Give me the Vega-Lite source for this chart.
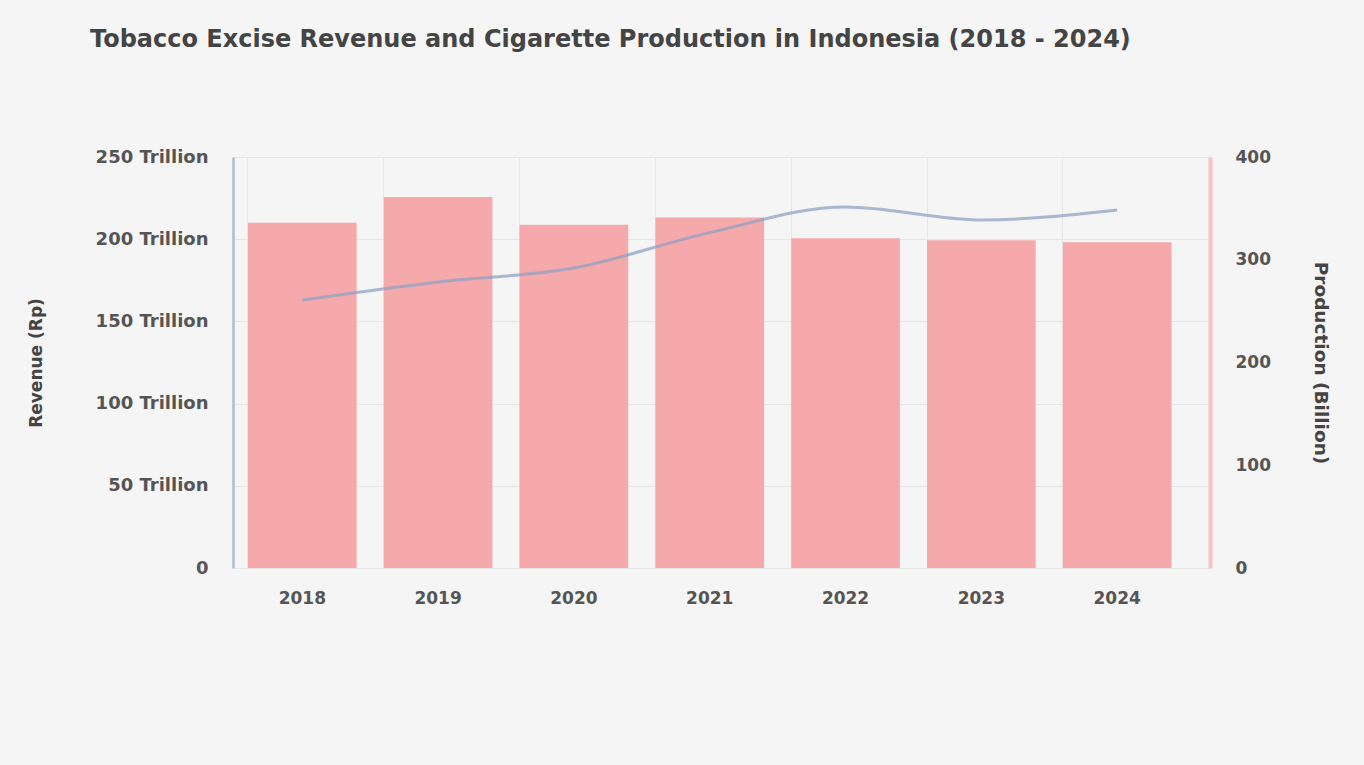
{
  "$schema": "https://vega.github.io/schema/vega-lite/v6.json",
  "autosize": {"type": "none"},
  "padding": {"left": 233, "top": 157, "right": 154, "bottom": 197},
  "width": 977,
  "height": 411,
  "background": "#f5f5f5",
  "config": {
    "font": "DejaVu Sans",
    "view": {"stroke": null},
    "axis": {"labelFont": "DejaVu Sans", "titleFont": "DejaVu Sans"}
  },
  "title": {
    "text": "Tobacco Excise Revenue and Cigarette Production in Indonesia (2018 - 2024)",
    "anchor": "start",
    "frame": "group",
    "dx": -143,
    "offset": 96,
    "font": "DejaVu Sans",
    "fontSize": 24,
    "fontWeight": "bold",
    "color": "#444444"
  },
  "data": {
    "values": [
      {"year": "2018", "production": 336, "revenue": 163},
      {"year": "2019", "production": 361, "revenue": 174},
      {"year": "2020", "production": 334, "revenue": 182.5},
      {"year": "2021", "production": 341, "revenue": 204},
      {"year": "2022", "production": 321, "revenue": 219.6},
      {"year": "2023", "production": 319, "revenue": 211.7},
      {"year": "2024", "production": 317, "revenue": 217.8}
    ]
  },
  "encoding": {
    "x": {
      "field": "year",
      "type": "nominal",
      "scale": {"paddingInner": 0.2, "paddingOuter": 0.197, "align": 0.28},
      "axis": {
        "title": null,
        "labelAngle": 0,
        "labelFontSize": 17,
        "labelFontWeight": "bold",
        "labelColor": "#555555",
        "labelPadding": 22,
        "ticks": false,
        "domain": false,
        "grid": true,
        "gridColor": "#e6e6e6",
        "bandPosition": 0
      }
    }
  },
  "layer": [
    {
      "mark": {"type": "bar", "color": "#f5a9aa"},
      "encoding": {
        "y": {
          "field": "production",
          "type": "quantitative",
          "scale": {"domain": [0, 400]},
          "axis": {
            "orient": "right",
            "title": "Production (Billion)",
            "titleFontSize": 18.5,
            "titleFontWeight": "bold",
            "titleColor": "#444444",
            "titlePadding": 40,
            "values": [0, 100, 200, 300, 400],
            "labelFontSize": 17,
            "labelFontWeight": "bold",
            "labelColor": "#555555",
            "labelPadding": 25,
            "ticks": false,
            "grid": false,
            "domainColor": "#f6c3c6",
            "domainWidth": 4
          }
        }
      }
    },
    {
      "mark": {"type": "line", "color": "#8fa1c4", "strokeWidth": 3, "opacity": 0.75, "interpolate": "monotone"},
      "encoding": {
        "y": {
          "field": "revenue",
          "type": "quantitative",
          "scale": {"domain": [0, 250]},
          "axis": {
            "orient": "left",
            "title": "Revenue (Rp)",
            "titleFontSize": 17,
            "titleFontWeight": "bold",
            "titleColor": "#444444",
            "titlePadding": 50,
            "values": [0, 50, 100, 150, 200, 250],
            "labelExpr": "datum.value == 0 ? '0' : datum.value + ' Trillion'",
            "labelFontSize": 18,
            "labelFontWeight": "bold",
            "labelColor": "#555555",
            "labelPadding": 25,
            "ticks": false,
            "grid": true,
            "gridColor": "#e6e6e6",
            "domainColor": "#aebbd6",
            "domainWidth": 2.5
          }
        }
      }
    }
  ],
  "resolve": {"scale": {"y": "independent"}}
}
